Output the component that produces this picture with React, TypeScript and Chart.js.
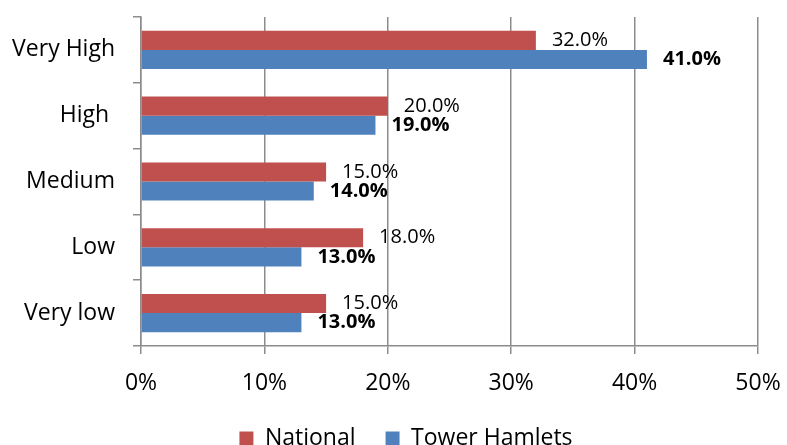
import React, { useEffect, useRef } from "react";
import { Chart, registerables } from "chart.js";

Chart.register(...registerables);

const categories = ["Very High", "High ", "Medium", "Low", "Very low"];
const nationalValues = [32, 20, 15, 18, 15];
const towerHamletsValues = [41, 19, 14, 13, 13];
const xTickValues = [0, 10, 20, 30, 40, 50];

const FONT = "'Open Sans', sans-serif";
const GRID = "#8c8c8c";
const LEGEND_SHIFT = 27;

const valueLabels = {
  id: "valueLabels",
  afterDatasetsDraw(chart: any) {
    const { ctx } = chart;
    ctx.save();
    chart.data.datasets.forEach((ds: any, di: number) => {
      const meta = chart.getDatasetMeta(di);
      ctx.font = `${di === 1 ? "bold " : ""}20px ${FONT}`;
      ctx.fillStyle = "#000";
      ctx.textAlign = "left";
      ctx.textBaseline = "middle";
      meta.data.forEach((bar: any, i: number) => {
        const v = ds.data[i] as number;
        ctx.fillText(`${v.toFixed(1)}%`, bar.x + 16, bar.y);
      });
    });
    ctx.restore();
  },
};

const legendShift = {
  id: "legendShift",
  afterLayout(chart: any) {
    const lg = chart.legend;
    if (lg) {
      lg.left += LEGEND_SHIFT;
      lg.right += LEGEND_SHIFT;
    }
  },
};

export default function App() {
  const ref = useRef<HTMLCanvasElement | null>(null);
  useEffect(() => {
    document.documentElement.style.overflow = "hidden";
    document.body.style.overflow = "hidden";
    const canvas = ref.current!;
    const chart = new Chart(canvas, {
      type: "bar",
      data: {
        labels: categories,
        datasets: [
          {
            label: "National",
            data: nationalValues,
            backgroundColor: "#C0504D",
            barPercentage: 1,
            categoryPercentage: 0.58,
          },
          {
            label: "Tower Hamlets",
            data: towerHamletsValues,
            backgroundColor: "#4F81BD",
            barPercentage: 1,
            categoryPercentage: 0.58,
          },
        ],
      },
      options: {
        indexAxis: "y",
        responsive: false,
        animation: false,
        layout: { padding: { top: 17, right: 29, left: 0, bottom: 0 } },
        scales: {
          x: {
            min: 0,
            max: 50,
            afterBuildTicks: (scale: any) => {
              scale.ticks = xTickValues.map((v) => ({ value: v }));
            },
            afterFit: (scale: any) => {
              scale.height = 51;
              scale.paddingLeft = 0;
              scale.paddingRight = 0;
            },
            ticks: {
              color: "#000",
              font: { family: FONT, size: 23 },
              padding: 16,
              maxRotation: 0,
              callback: (v: any) => `${v}%`,
            },
            grid: { color: GRID, lineWidth: 1.5, tickLength: 8 },
            border: { color: GRID, width: 1.5 },
          },
          y: {
            afterFit: (scale: any) => {
              scale.width = 141;
              scale.paddingTop = 0;
              scale.paddingBottom = 0;
            },
            ticks: {
              color: "#000",
              font: { family: FONT, size: 23 },
              padding: 18,
            },
            grid: {
              drawOnChartArea: false,
              tickLength: 8,
              color: GRID,
              lineWidth: 1.5,
              offset: true,
            },
            border: { color: GRID, width: 1.5 },
          },
        },
        plugins: {
          legend: {
            position: "bottom",
            labels: {
              boxWidth: 14,
              boxHeight: 14,
              padding: 30,
              color: "#000",
              font: { family: FONT, size: 23 },
            },
          },
          tooltip: { enabled: false },
        },
      },
      plugins: [valueLabels, legendShift],
    } as any);
    return () => chart.destroy();
  }, []);
  return (
    <div style={{ position: "absolute", left: 0, top: 0, width: 787, height: 460, background: "#fff" }}>
      <canvas ref={ref} width={787} height={460} style={{ display: "block" }} />
    </div>
  );
}
